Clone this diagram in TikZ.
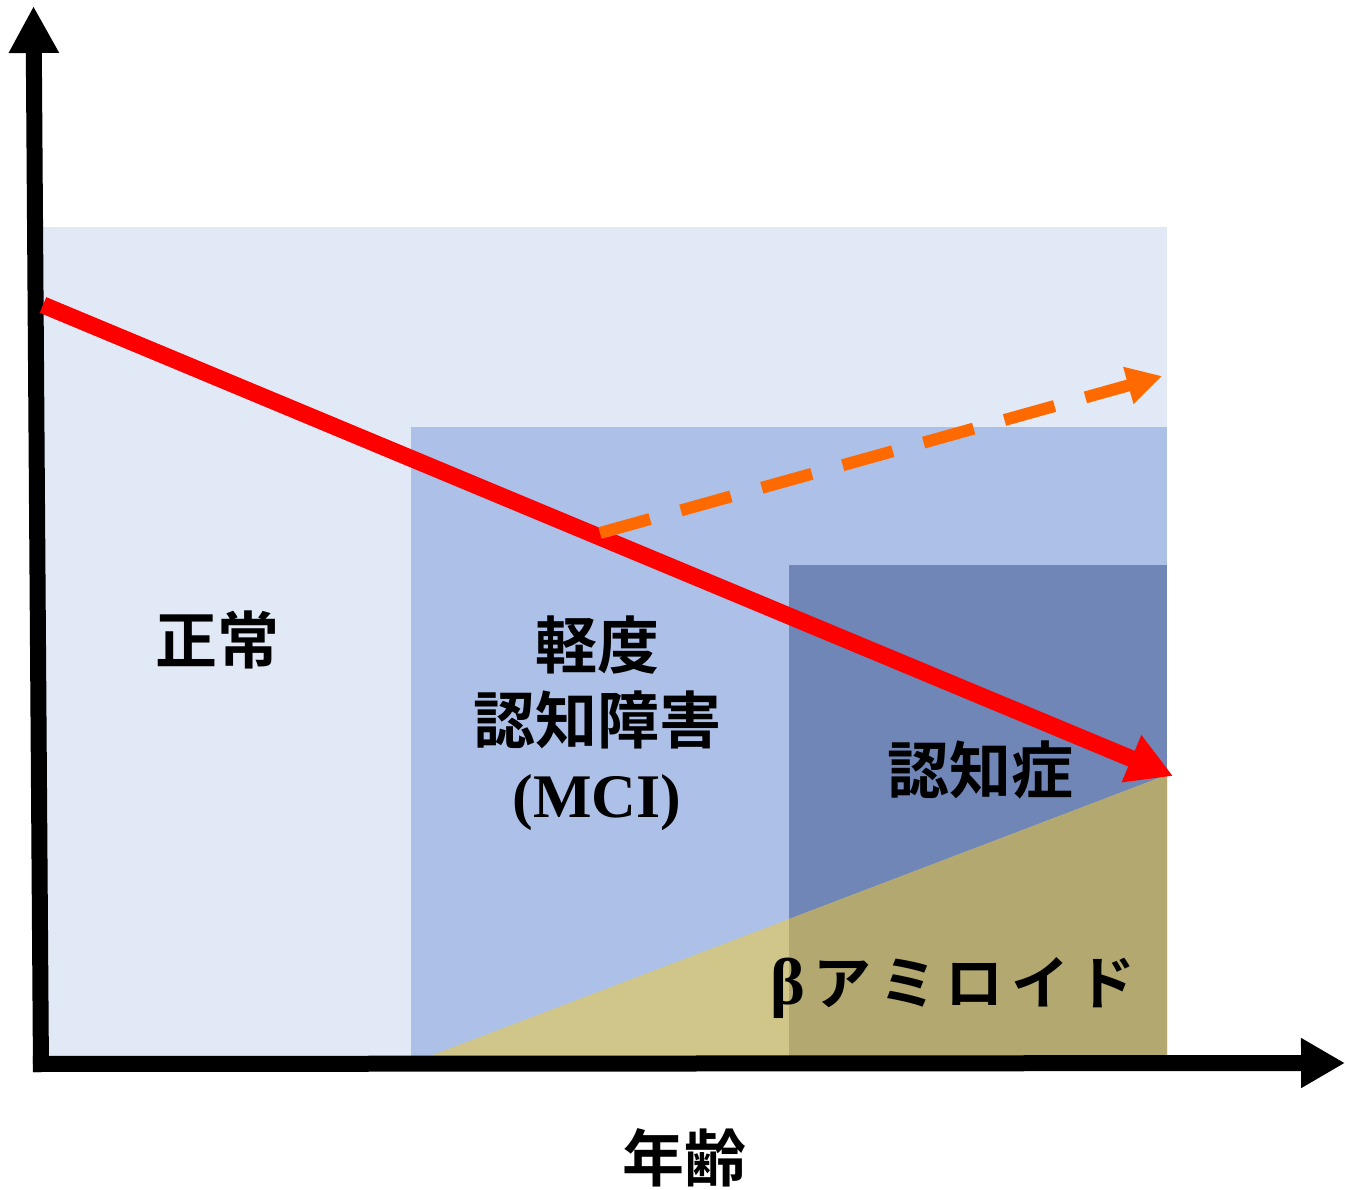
\documentclass[tikz,border=0pt]{standalone}
\usepackage{fontspec}
\newfontfamily\cjk{Noto Sans CJK JP Bold}
\newfontfamily\tnr{Liberation Serif}
\usetikzlibrary{arrows.meta}
\definecolor{lightbg}{HTML}{E1E9F6}
\definecolor{midbg}{HTML}{ADC1E8}
\definecolor{darkbg}{HTML}{6F86B6}
\definecolor{tanA}{HTML}{D0C68A}
\definecolor{tanB}{HTML}{B2A870}
\definecolor{orangeA}{HTML}{FF6A00}
\tikzset{
  lab/.style={font=\cjk\fontsize{62}{74}\selectfont, inner sep=0pt, align=center},
  axis/.style={line width=16pt, draw=black},
}
\begin{document}
\begin{tikzpicture}[x=1pt,y=-1pt]
\useasboundingbox (0,0) rectangle (1345,1190);
% regions
\fill[lightbg] (43,227) rectangle (1167,1056);
\fill[midbg] (411,427) rectangle (1167,1056);
\fill[darkbg] (789,565) rectangle (1167,1056);
% amyloid triangle
\fill[tanA] (430,1056) -- (1167,775) -- (1167,1056) -- cycle;
\begin{scope}
  \clip (789,565) rectangle (1167,1056);
  \fill[tanB] (430,1056) -- (1167,775) -- (1167,1056) -- cycle;
\end{scope}
% coordinates
\coordinate (yb) at (41,1072);
\coordinate (yt) at (33.5,6);
\coordinate (xl) at (33,1064);
\coordinate (xr) at (1345,1063);
\coordinate (rs) at (43,305);
\coordinate (re) at (1173,776);
\coordinate (os) at (600,533);
\coordinate (oe) at (1162,376);
% axes
\draw[axis, -{Triangle[length=47pt,width=47pt]}] (yb) -- (yt);
\draw[axis, -{Triangle[length=44pt,width=47pt]}] (xl) -- (xr);
% red arrow
\draw[red, line width=17pt, -{Triangle[length=45pt,width=48pt]}] (rs) -- (re);
% orange dashed arrow
\draw[orangeA, line width=12pt, dash pattern=on 52pt off 32pt, -{Triangle[length=35pt,width=36pt]}] (os) -- (oe);
% labels
\node[lab] (normal) at (217,640) {正常};
\node[lab] (mci1) at (597,645) {軽度};
\node[lab] (mci2) at (597,720) {認知障害};
\node[lab, font=\tnr\bfseries\fontsize{62}{74}\selectfont] (mci3) at (597,803) {(MCI)};
\node[lab] (dem) at (980,770) {認知症};
\node[lab, font=\cjk\fontsize{58}{68}\selectfont] (amy) at (953,988) {{\tnr\bfseries\fontsize{66}{70}\selectfont β}\kern8pt ア\kern8pt ミ\kern8pt ロ\kern8pt イ\kern8pt ド};
\node[lab] (age) at (684,1158) {年齢};
\end{tikzpicture}
\end{document}
